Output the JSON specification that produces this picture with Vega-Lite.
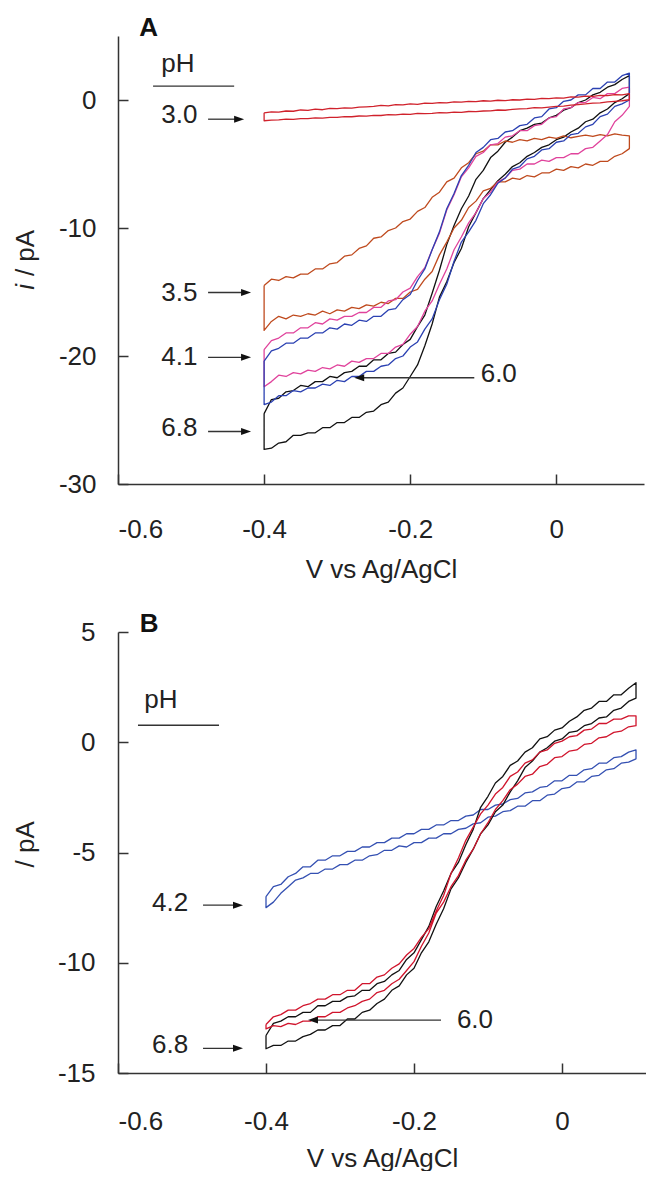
{
"$schema":"https://vega.github.io/schema/vega-lite/v6.json",
"autosize":{"type":"pad"},
"padding":{"left":12,"top":15,"right":0,"bottom":0},
"background":"white",
"config":{"view":{"stroke":null},"font":"Liberation Sans",
"axis":{"domainColor":"#333","domainWidth":1.5,"tickColor":"#333","tickWidth":1.5,"tickSize":-10,"grid":false,"labelFont":"Liberation Sans","labelFontSize":26,"labelColor":"#222","titleFont":"Liberation Sans","titleFontSize":26,"titleFontWeight":"normal","titleColor":"#222","labelExpr":"datum.value == 0 ? '0' : replace(datum.label, '\u2212', '-')"}},
"resolve":{"scale":{"color":"independent"}},
"bounds":"flush",
"spacing":148,
"datasets":{
"curvesA":[
{"s":"6.8","x":-0.4,"y":-24.5},{"s":"6.8","x":-0.39,"y":-23.4},{"s":"6.8","x":-0.38,"y":-23.3},{"s":"6.8","x":-0.37,"y":-22.8},{"s":"6.8","x":-0.36,"y":-22.7},{"s":"6.8","x":-0.35,"y":-22.3},{"s":"6.8","x":-0.34,"y":-22.4},{"s":"6.8","x":-0.33,"y":-22.0},{"s":"6.8","x":-0.32,"y":-22.0},{"s":"6.8","x":-0.31,"y":-21.6},{"s":"6.8","x":-0.3,"y":-21.7},{"s":"6.8","x":-0.29,"y":-21.3},{"s":"6.8","x":-0.28,"y":-21.2},{"s":"6.8","x":-0.27,"y":-20.8},{"s":"6.8","x":-0.26,"y":-20.8},{"s":"6.8","x":-0.25,"y":-20.3},{"s":"6.8","x":-0.24,"y":-20.3},{"s":"6.8","x":-0.23,"y":-19.8},{"s":"6.8","x":-0.22,"y":-19.7},{"s":"6.8","x":-0.21,"y":-19.1},{"s":"6.8","x":-0.2,"y":-18.7},{"s":"6.8","x":-0.19,"y":-17.7},{"s":"6.8","x":-0.18,"y":-16.8},{"s":"6.8","x":-0.17,"y":-15.1},{"s":"6.8","x":-0.16,"y":-13.3},{"s":"6.8","x":-0.15,"y":-11.3},{"s":"6.8","x":-0.14,"y":-9.8},{"s":"6.8","x":-0.13,"y":-8.5},{"s":"6.8","x":-0.12,"y":-7.5},{"s":"6.8","x":-0.11,"y":-6.2},{"s":"6.8","x":-0.1,"y":-5.5},{"s":"6.8","x":-0.09,"y":-4.5},{"s":"6.8","x":-0.08,"y":-4.0},{"s":"6.8","x":-0.07,"y":-3.3},{"s":"6.8","x":-0.06,"y":-2.9},{"s":"6.8","x":-0.05,"y":-2.4},{"s":"6.8","x":-0.04,"y":-2.2},{"s":"6.8","x":-0.03,"y":-1.9},{"s":"6.8","x":-0.02,"y":-1.8},{"s":"6.8","x":-0.01,"y":-1.4},{"s":"6.8","x":0,"y":-1.2},{"s":"6.8","x":0.01,"y":-0.8},{"s":"6.8","x":0.02,"y":-0.6},{"s":"6.8","x":0.03,"y":-0.2},{"s":"6.8","x":0.04,"y":0.0},{"s":"6.8","x":0.05,"y":0.4},{"s":"6.8","x":0.06,"y":0.6},{"s":"6.8","x":0.07,"y":1.0},{"s":"6.8","x":0.08,"y":1.2},{"s":"6.8","x":0.09,"y":1.6},{"s":"6.8","x":0.1,"y":1.9},
{"s":"6.8","x":0.1,"y":0.5},{"s":"6.8","x":0.09,"y":0.1},{"s":"6.8","x":0.08,"y":-0.2},{"s":"6.8","x":0.07,"y":-0.7},{"s":"6.8","x":0.06,"y":-1.0},{"s":"6.8","x":0.05,"y":-1.5},{"s":"6.8","x":0.04,"y":-1.7},{"s":"6.8","x":0.03,"y":-2.2},{"s":"6.8","x":0.02,"y":-2.5},{"s":"6.8","x":0.01,"y":-2.9},{"s":"6.8","x":0,"y":-3.1},{"s":"6.8","x":-0.01,"y":-3.5},{"s":"6.8","x":-0.02,"y":-3.7},{"s":"6.8","x":-0.03,"y":-4.1},{"s":"6.8","x":-0.04,"y":-4.4},{"s":"6.8","x":-0.05,"y":-4.9},{"s":"6.8","x":-0.06,"y":-5.2},{"s":"6.8","x":-0.07,"y":-5.8},{"s":"6.8","x":-0.08,"y":-6.3},{"s":"6.8","x":-0.09,"y":-7.0},{"s":"6.8","x":-0.1,"y":-7.7},{"s":"6.8","x":-0.11,"y":-8.8},{"s":"6.8","x":-0.12,"y":-9.9},{"s":"6.8","x":-0.13,"y":-11.6},{"s":"6.8","x":-0.14,"y":-12.7},{"s":"6.8","x":-0.15,"y":-14.2},{"s":"6.8","x":-0.16,"y":-15.4},{"s":"6.8","x":-0.17,"y":-17.5},{"s":"6.8","x":-0.18,"y":-19.2},{"s":"6.8","x":-0.19,"y":-20.7},{"s":"6.8","x":-0.2,"y":-21.6},{"s":"6.8","x":-0.21,"y":-22.5},{"s":"6.8","x":-0.22,"y":-22.9},{"s":"6.8","x":-0.23,"y":-23.6},{"s":"6.8","x":-0.24,"y":-23.8},{"s":"6.8","x":-0.25,"y":-24.3},{"s":"6.8","x":-0.26,"y":-24.4},{"s":"6.8","x":-0.27,"y":-24.8},{"s":"6.8","x":-0.28,"y":-24.8},{"s":"6.8","x":-0.29,"y":-25.2},{"s":"6.8","x":-0.3,"y":-25.2},{"s":"6.8","x":-0.31,"y":-25.6},{"s":"6.8","x":-0.32,"y":-25.6},{"s":"6.8","x":-0.33,"y":-26.0},{"s":"6.8","x":-0.34,"y":-26.0},{"s":"6.8","x":-0.35,"y":-26.2},{"s":"6.8","x":-0.36,"y":-26.2},{"s":"6.8","x":-0.37,"y":-26.7},{"s":"6.8","x":-0.38,"y":-26.8},{"s":"6.8","x":-0.39,"y":-27.2},{"s":"6.8","x":-0.4,"y":-27.3},{"s":"6.8","x":-0.4,"y":-24.5},
{"s":"3.5","x":-0.4,"y":-14.5},{"s":"3.5","x":-0.39,"y":-14.0},{"s":"3.5","x":-0.38,"y":-14.1},{"s":"3.5","x":-0.37,"y":-13.8},{"s":"3.5","x":-0.36,"y":-13.9},{"s":"3.5","x":-0.35,"y":-13.6},{"s":"3.5","x":-0.34,"y":-13.6},{"s":"3.5","x":-0.33,"y":-13.2},{"s":"3.5","x":-0.32,"y":-13.2},{"s":"3.5","x":-0.31,"y":-12.8},{"s":"3.5","x":-0.3,"y":-12.7},{"s":"3.5","x":-0.29,"y":-12.2},{"s":"3.5","x":-0.28,"y":-12.1},{"s":"3.5","x":-0.27,"y":-11.6},{"s":"3.5","x":-0.26,"y":-11.4},{"s":"3.5","x":-0.25,"y":-10.8},{"s":"3.5","x":-0.24,"y":-10.7},{"s":"3.5","x":-0.23,"y":-10.2},{"s":"3.5","x":-0.22,"y":-10.0},{"s":"3.5","x":-0.21,"y":-9.5},{"s":"3.5","x":-0.2,"y":-9.3},{"s":"3.5","x":-0.19,"y":-8.7},{"s":"3.5","x":-0.18,"y":-8.4},{"s":"3.5","x":-0.17,"y":-7.6},{"s":"3.5","x":-0.16,"y":-7.2},{"s":"3.5","x":-0.15,"y":-6.4},{"s":"3.5","x":-0.14,"y":-6.1},{"s":"3.5","x":-0.13,"y":-5.3},{"s":"3.5","x":-0.12,"y":-4.9},{"s":"3.5","x":-0.11,"y":-4.2},{"s":"3.5","x":-0.1,"y":-4.0},{"s":"3.5","x":-0.09,"y":-3.5},{"s":"3.5","x":-0.08,"y":-3.5},{"s":"3.5","x":-0.07,"y":-3.2},{"s":"3.5","x":-0.06,"y":-3.3},{"s":"3.5","x":-0.05,"y":-3.1},{"s":"3.5","x":-0.04,"y":-3.2},{"s":"3.5","x":-0.03,"y":-3.0},{"s":"3.5","x":-0.02,"y":-3.1},{"s":"3.5","x":-0.01,"y":-2.9},{"s":"3.5","x":0,"y":-3.0},{"s":"3.5","x":0.01,"y":-2.8},{"s":"3.5","x":0.02,"y":-2.95},{"s":"3.5","x":0.03,"y":-2.85},{"s":"3.5","x":0.04,"y":-2.75},{"s":"3.5","x":0.05,"y":-2.85},{"s":"3.5","x":0.06,"y":-2.7},{"s":"3.5","x":0.07,"y":-2.8},{"s":"3.5","x":0.08,"y":-2.65},{"s":"3.5","x":0.09,"y":-2.75},{"s":"3.5","x":0.1,"y":-2.8},
{"s":"3.5","x":0.1,"y":-3.8},{"s":"3.5","x":0.09,"y":-4.2},{"s":"3.5","x":0.08,"y":-4.4},{"s":"3.5","x":0.07,"y":-4.8},{"s":"3.5","x":0.06,"y":-4.8},{"s":"3.5","x":0.05,"y":-5.1},{"s":"3.5","x":0.04,"y":-5.0},{"s":"3.5","x":0.03,"y":-5.3},{"s":"3.5","x":0.02,"y":-5.2},{"s":"3.5","x":0.01,"y":-5.5},{"s":"3.5","x":0,"y":-5.4},{"s":"3.5","x":-0.01,"y":-5.7},{"s":"3.5","x":-0.02,"y":-5.7},{"s":"3.5","x":-0.03,"y":-6.0},{"s":"3.5","x":-0.04,"y":-5.9},{"s":"3.5","x":-0.05,"y":-6.2},{"s":"3.5","x":-0.06,"y":-6.1},{"s":"3.5","x":-0.07,"y":-6.4},{"s":"3.5","x":-0.08,"y":-6.4},{"s":"3.5","x":-0.09,"y":-6.9},{"s":"3.5","x":-0.1,"y":-7.1},{"s":"3.5","x":-0.11,"y":-7.9},{"s":"3.5","x":-0.12,"y":-8.4},{"s":"3.5","x":-0.13,"y":-9.4},{"s":"3.5","x":-0.14,"y":-10.0},{"s":"3.5","x":-0.15,"y":-11.1},{"s":"3.5","x":-0.16,"y":-12.1},{"s":"3.5","x":-0.17,"y":-13.4},{"s":"3.5","x":-0.18,"y":-14.0},{"s":"3.5","x":-0.19,"y":-14.8},{"s":"3.5","x":-0.2,"y":-15.0},{"s":"3.5","x":-0.21,"y":-15.5},{"s":"3.5","x":-0.22,"y":-15.5},{"s":"3.5","x":-0.23,"y":-15.9},{"s":"3.5","x":-0.24,"y":-15.8},{"s":"3.5","x":-0.25,"y":-16.1},{"s":"3.5","x":-0.26,"y":-16.0},{"s":"3.5","x":-0.27,"y":-16.3},{"s":"3.5","x":-0.28,"y":-16.2},{"s":"3.5","x":-0.29,"y":-16.5},{"s":"3.5","x":-0.3,"y":-16.4},{"s":"3.5","x":-0.31,"y":-16.7},{"s":"3.5","x":-0.32,"y":-16.5},{"s":"3.5","x":-0.33,"y":-16.8},{"s":"3.5","x":-0.34,"y":-16.7},{"s":"3.5","x":-0.35,"y":-16.9},{"s":"3.5","x":-0.36,"y":-16.8},{"s":"3.5","x":-0.37,"y":-17.1},{"s":"3.5","x":-0.38,"y":-16.9},{"s":"3.5","x":-0.39,"y":-17.3},{"s":"3.5","x":-0.4,"y":-18.0},{"s":"3.5","x":-0.4,"y":-14.5},
{"s":"4.1","x":-0.4,"y":-19.5},{"s":"4.1","x":-0.39,"y":-18.8},{"s":"4.1","x":-0.38,"y":-18.6},{"s":"4.1","x":-0.37,"y":-18.2},{"s":"4.1","x":-0.36,"y":-18.2},{"s":"4.1","x":-0.35,"y":-17.8},{"s":"4.1","x":-0.34,"y":-17.8},{"s":"4.1","x":-0.33,"y":-17.4},{"s":"4.1","x":-0.32,"y":-17.5},{"s":"4.1","x":-0.31,"y":-17.1},{"s":"4.1","x":-0.3,"y":-17.2},{"s":"4.1","x":-0.29,"y":-16.9},{"s":"4.1","x":-0.28,"y":-16.9},{"s":"4.1","x":-0.27,"y":-16.6},{"s":"4.1","x":-0.26,"y":-16.6},{"s":"4.1","x":-0.25,"y":-16.2},{"s":"4.1","x":-0.24,"y":-16.2},{"s":"4.1","x":-0.23,"y":-15.7},{"s":"4.1","x":-0.22,"y":-15.6},{"s":"4.1","x":-0.21,"y":-15.0},{"s":"4.1","x":-0.2,"y":-14.7},{"s":"4.1","x":-0.19,"y":-13.8},{"s":"4.1","x":-0.18,"y":-13.1},{"s":"4.1","x":-0.17,"y":-11.7},{"s":"4.1","x":-0.16,"y":-10.4},{"s":"4.1","x":-0.15,"y":-8.6},{"s":"4.1","x":-0.14,"y":-7.4},{"s":"4.1","x":-0.13,"y":-6.0},{"s":"4.1","x":-0.12,"y":-5.3},{"s":"4.1","x":-0.11,"y":-4.4},{"s":"4.1","x":-0.1,"y":-4.1},{"s":"4.1","x":-0.09,"y":-3.5},{"s":"4.1","x":-0.08,"y":-3.4},{"s":"4.1","x":-0.07,"y":-2.9},{"s":"4.1","x":-0.06,"y":-2.8},{"s":"4.1","x":-0.05,"y":-2.4},{"s":"4.1","x":-0.04,"y":-2.4},{"s":"4.1","x":-0.03,"y":-2.0},{"s":"4.1","x":-0.02,"y":-1.9},{"s":"4.1","x":-0.01,"y":-1.4},{"s":"4.1","x":0,"y":-1.3},{"s":"4.1","x":0.01,"y":-0.7},{"s":"4.1","x":0.02,"y":-0.6},{"s":"4.1","x":0.03,"y":-0.2},{"s":"4.1","x":0.04,"y":-0.2},{"s":"4.1","x":0.05,"y":0.2},{"s":"4.1","x":0.06,"y":0.1},{"s":"4.1","x":0.07,"y":0.5},{"s":"4.1","x":0.08,"y":0.5},{"s":"4.1","x":0.09,"y":0.9},{"s":"4.1","x":0.1,"y":1.0},
{"s":"4.1","x":0.1,"y":-0.5},{"s":"4.1","x":0.09,"y":-1.2},{"s":"4.1","x":0.08,"y":-1.7},{"s":"4.1","x":0.07,"y":-2.7},{"s":"4.1","x":0.06,"y":-3.2},{"s":"4.1","x":0.05,"y":-3.7},{"s":"4.1","x":0.04,"y":-3.8},{"s":"4.1","x":0.03,"y":-4.2},{"s":"4.1","x":0.02,"y":-4.2},{"s":"4.1","x":0.01,"y":-4.5},{"s":"4.1","x":0,"y":-4.5},{"s":"4.1","x":-0.01,"y":-4.8},{"s":"4.1","x":-0.02,"y":-4.7},{"s":"4.1","x":-0.03,"y":-5.0},{"s":"4.1","x":-0.04,"y":-5.0},{"s":"4.1","x":-0.05,"y":-5.4},{"s":"4.1","x":-0.06,"y":-5.5},{"s":"4.1","x":-0.07,"y":-6.1},{"s":"4.1","x":-0.08,"y":-6.4},{"s":"4.1","x":-0.09,"y":-7.2},{"s":"4.1","x":-0.1,"y":-7.7},{"s":"4.1","x":-0.11,"y":-8.8},{"s":"4.1","x":-0.12,"y":-9.6},{"s":"4.1","x":-0.13,"y":-10.7},{"s":"4.1","x":-0.14,"y":-11.7},{"s":"4.1","x":-0.15,"y":-13.2},{"s":"4.1","x":-0.16,"y":-14.4},{"s":"4.1","x":-0.17,"y":-15.7},{"s":"4.1","x":-0.18,"y":-16.5},{"s":"4.1","x":-0.19,"y":-17.7},{"s":"4.1","x":-0.2,"y":-18.3},{"s":"4.1","x":-0.21,"y":-19.1},{"s":"4.1","x":-0.22,"y":-19.3},{"s":"4.1","x":-0.23,"y":-19.8},{"s":"4.1","x":-0.24,"y":-19.8},{"s":"4.1","x":-0.25,"y":-20.2},{"s":"4.1","x":-0.26,"y":-20.2},{"s":"4.1","x":-0.27,"y":-20.5},{"s":"4.1","x":-0.28,"y":-20.4},{"s":"4.1","x":-0.29,"y":-20.8},{"s":"4.1","x":-0.3,"y":-20.7},{"s":"4.1","x":-0.31,"y":-21.0},{"s":"4.1","x":-0.32,"y":-20.9},{"s":"4.1","x":-0.33,"y":-21.2},{"s":"4.1","x":-0.34,"y":-21.1},{"s":"4.1","x":-0.35,"y":-21.4},{"s":"4.1","x":-0.36,"y":-21.3},{"s":"4.1","x":-0.37,"y":-21.6},{"s":"4.1","x":-0.38,"y":-21.5},{"s":"4.1","x":-0.39,"y":-22.0},{"s":"4.1","x":-0.4,"y":-22.4},{"s":"4.1","x":-0.4,"y":-19.5},
{"s":"6.0","x":-0.4,"y":-20.4},{"s":"6.0","x":-0.39,"y":-19.6},{"s":"6.0","x":-0.38,"y":-19.4},{"s":"6.0","x":-0.37,"y":-19.0},{"s":"6.0","x":-0.36,"y":-19.0},{"s":"6.0","x":-0.35,"y":-18.6},{"s":"6.0","x":-0.34,"y":-18.6},{"s":"6.0","x":-0.33,"y":-18.2},{"s":"6.0","x":-0.32,"y":-18.2},{"s":"6.0","x":-0.31,"y":-17.8},{"s":"6.0","x":-0.3,"y":-17.9},{"s":"6.0","x":-0.29,"y":-17.5},{"s":"6.0","x":-0.28,"y":-17.6},{"s":"6.0","x":-0.27,"y":-17.2},{"s":"6.0","x":-0.26,"y":-17.3},{"s":"6.0","x":-0.25,"y":-16.9},{"s":"6.0","x":-0.24,"y":-16.9},{"s":"6.0","x":-0.23,"y":-16.4},{"s":"6.0","x":-0.22,"y":-16.3},{"s":"6.0","x":-0.21,"y":-15.6},{"s":"6.0","x":-0.2,"y":-15.2},{"s":"6.0","x":-0.19,"y":-14.1},{"s":"6.0","x":-0.18,"y":-13.2},{"s":"6.0","x":-0.17,"y":-11.7},{"s":"6.0","x":-0.16,"y":-10.3},{"s":"6.0","x":-0.15,"y":-8.5},{"s":"6.0","x":-0.14,"y":-7.3},{"s":"6.0","x":-0.13,"y":-5.9},{"s":"6.0","x":-0.12,"y":-5.1},{"s":"6.0","x":-0.11,"y":-4.1},{"s":"6.0","x":-0.1,"y":-3.7},{"s":"6.0","x":-0.09,"y":-3.1},{"s":"6.0","x":-0.08,"y":-3.0},{"s":"6.0","x":-0.07,"y":-2.5},{"s":"6.0","x":-0.06,"y":-2.4},{"s":"6.0","x":-0.05,"y":-2.0},{"s":"6.0","x":-0.04,"y":-1.9},{"s":"6.0","x":-0.03,"y":-1.4},{"s":"6.0","x":-0.02,"y":-1.3},{"s":"6.0","x":-0.01,"y":-0.7},{"s":"6.0","x":0,"y":-0.6},{"s":"6.0","x":0.01,"y":-0.1},{"s":"6.0","x":0.02,"y":0.0},{"s":"6.0","x":0.03,"y":0.4},{"s":"6.0","x":0.04,"y":0.4},{"s":"6.0","x":0.05,"y":0.9},{"s":"6.0","x":0.06,"y":0.9},{"s":"6.0","x":0.07,"y":1.4},{"s":"6.0","x":0.08,"y":1.4},{"s":"6.0","x":0.09,"y":1.9},{"s":"6.0","x":0.1,"y":2.1},
{"s":"6.0","x":0.1,"y":0.0},{"s":"6.0","x":0.09,"y":-0.3},{"s":"6.0","x":0.08,"y":-0.5},{"s":"6.0","x":0.07,"y":-1.1},{"s":"6.0","x":0.06,"y":-1.3},{"s":"6.0","x":0.05,"y":-1.9},{"s":"6.0","x":0.04,"y":-2.1},{"s":"6.0","x":0.03,"y":-2.6},{"s":"6.0","x":0.02,"y":-2.7},{"s":"6.0","x":0.01,"y":-3.2},{"s":"6.0","x":0,"y":-3.3},{"s":"6.0","x":-0.01,"y":-3.8},{"s":"6.0","x":-0.02,"y":-3.9},{"s":"6.0","x":-0.03,"y":-4.4},{"s":"6.0","x":-0.04,"y":-4.6},{"s":"6.0","x":-0.05,"y":-5.2},{"s":"6.0","x":-0.06,"y":-5.4},{"s":"6.0","x":-0.07,"y":-6.1},{"s":"6.0","x":-0.08,"y":-6.5},{"s":"6.0","x":-0.09,"y":-7.4},{"s":"6.0","x":-0.1,"y":-8.1},{"s":"6.0","x":-0.11,"y":-9.4},{"s":"6.0","x":-0.12,"y":-10.3},{"s":"6.0","x":-0.13,"y":-11.1},{"s":"6.0","x":-0.14,"y":-12.6},{"s":"6.0","x":-0.15,"y":-14.4},{"s":"6.0","x":-0.16,"y":-15.6},{"s":"6.0","x":-0.17,"y":-17.1},{"s":"6.0","x":-0.18,"y":-17.9},{"s":"6.0","x":-0.19,"y":-18.9},{"s":"6.0","x":-0.2,"y":-19.3},{"s":"6.0","x":-0.21,"y":-20.0},{"s":"6.0","x":-0.22,"y":-20.2},{"s":"6.0","x":-0.23,"y":-20.7},{"s":"6.0","x":-0.24,"y":-20.8},{"s":"6.0","x":-0.25,"y":-21.2},{"s":"6.0","x":-0.26,"y":-21.2},{"s":"6.0","x":-0.27,"y":-21.6},{"s":"6.0","x":-0.28,"y":-21.6},{"s":"6.0","x":-0.29,"y":-22.0},{"s":"6.0","x":-0.3,"y":-21.9},{"s":"6.0","x":-0.31,"y":-22.3},{"s":"6.0","x":-0.32,"y":-22.2},{"s":"6.0","x":-0.33,"y":-22.5},{"s":"6.0","x":-0.34,"y":-22.5},{"s":"6.0","x":-0.35,"y":-22.8},{"s":"6.0","x":-0.36,"y":-22.7},{"s":"6.0","x":-0.37,"y":-23.1},{"s":"6.0","x":-0.38,"y":-23.1},{"s":"6.0","x":-0.39,"y":-23.6},{"s":"6.0","x":-0.4,"y":-23.8},{"s":"6.0","x":-0.4,"y":-20.4},
{"s":"3.0","x":-0.4,"y":-1.0},{"s":"3.0","x":-0.39,"y":-0.92},{"s":"3.0","x":-0.38,"y":-0.95},{"s":"3.0","x":-0.37,"y":-0.86},{"s":"3.0","x":-0.36,"y":-0.88},{"s":"3.0","x":-0.35,"y":-0.78},{"s":"3.0","x":-0.34,"y":-0.81},{"s":"3.0","x":-0.33,"y":-0.72},{"s":"3.0","x":-0.32,"y":-0.76},{"s":"3.0","x":-0.31,"y":-0.66},{"s":"3.0","x":-0.3,"y":-0.68},{"s":"3.0","x":-0.29,"y":-0.61},{"s":"3.0","x":-0.28,"y":-0.63},{"s":"3.0","x":-0.27,"y":-0.55},{"s":"3.0","x":-0.26,"y":-0.53},{"s":"3.0","x":-0.25,"y":-0.5},{"s":"3.0","x":-0.24,"y":-0.42},{"s":"3.0","x":-0.23,"y":-0.46},{"s":"3.0","x":-0.22,"y":-0.36},{"s":"3.0","x":-0.21,"y":-0.38},{"s":"3.0","x":-0.2,"y":-0.3},{"s":"3.0","x":-0.19,"y":-0.34},{"s":"3.0","x":-0.18,"y":-0.25},{"s":"3.0","x":-0.17,"y":-0.27},{"s":"3.0","x":-0.16,"y":-0.2},{"s":"3.0","x":-0.15,"y":-0.23},{"s":"3.0","x":-0.14,"y":-0.15},{"s":"3.0","x":-0.13,"y":-0.17},{"s":"3.0","x":-0.12,"y":-0.1},{"s":"3.0","x":-0.11,"y":-0.13},{"s":"3.0","x":-0.1,"y":-0.06},{"s":"3.0","x":-0.09,"y":-0.09},{"s":"3.0","x":-0.08,"y":-0.02},{"s":"3.0","x":-0.07,"y":-0.05},{"s":"3.0","x":-0.06,"y":0.02},{"s":"3.0","x":-0.05,"y":0.0},{"s":"3.0","x":-0.04,"y":0.07},{"s":"3.0","x":-0.03,"y":0.05},{"s":"3.0","x":-0.02,"y":0.12},{"s":"3.0","x":-0.01,"y":0.1},{"s":"3.0","x":0,"y":0.17},{"s":"3.0","x":0.01,"y":0.15},{"s":"3.0","x":0.02,"y":0.24},{"s":"3.0","x":0.03,"y":0.22},{"s":"3.0","x":0.04,"y":0.3},{"s":"3.0","x":0.05,"y":0.28},{"s":"3.0","x":0.06,"y":0.36},{"s":"3.0","x":0.07,"y":0.34},{"s":"3.0","x":0.08,"y":0.42},{"s":"3.0","x":0.09,"y":0.4},{"s":"3.0","x":0.1,"y":0.5},
{"s":"3.0","x":0.1,"y":0.02},{"s":"3.0","x":0.09,"y":-0.06},{"s":"3.0","x":0.08,"y":-0.1},{"s":"3.0","x":0.07,"y":-0.14},{"s":"3.0","x":0.06,"y":-0.22},{"s":"3.0","x":0.05,"y":-0.24},{"s":"3.0","x":0.04,"y":-0.31},{"s":"3.0","x":0.03,"y":-0.36},{"s":"3.0","x":0.02,"y":-0.4},{"s":"3.0","x":0.01,"y":-0.48},{"s":"3.0","x":0,"y":-0.5},{"s":"3.0","x":-0.01,"y":-0.55},{"s":"3.0","x":-0.02,"y":-0.61},{"s":"3.0","x":-0.03,"y":-0.6},{"s":"3.0","x":-0.04,"y":-0.67},{"s":"3.0","x":-0.05,"y":-0.7},{"s":"3.0","x":-0.06,"y":-0.73},{"s":"3.0","x":-0.07,"y":-0.8},{"s":"3.0","x":-0.08,"y":-0.78},{"s":"3.0","x":-0.09,"y":-0.85},{"s":"3.0","x":-0.1,"y":-0.86},{"s":"3.0","x":-0.11,"y":-0.91},{"s":"3.0","x":-0.12,"y":-0.9},{"s":"3.0","x":-0.13,"y":-0.96},{"s":"3.0","x":-0.14,"y":-0.95},{"s":"3.0","x":-0.15,"y":-1.01},{"s":"3.0","x":-0.16,"y":-0.99},{"s":"3.0","x":-0.17,"y":-1.04},{"s":"3.0","x":-0.18,"y":-1.06},{"s":"3.0","x":-0.19,"y":-1.05},{"s":"3.0","x":-0.2,"y":-1.12},{"s":"3.0","x":-0.21,"y":-1.1},{"s":"3.0","x":-0.22,"y":-1.16},{"s":"3.0","x":-0.23,"y":-1.15},{"s":"3.0","x":-0.24,"y":-1.21},{"s":"3.0","x":-0.25,"y":-1.2},{"s":"3.0","x":-0.26,"y":-1.26},{"s":"3.0","x":-0.27,"y":-1.25},{"s":"3.0","x":-0.28,"y":-1.31},{"s":"3.0","x":-0.29,"y":-1.3},{"s":"3.0","x":-0.3,"y":-1.36},{"s":"3.0","x":-0.31,"y":-1.35},{"s":"3.0","x":-0.32,"y":-1.41},{"s":"3.0","x":-0.33,"y":-1.4},{"s":"3.0","x":-0.34,"y":-1.46},{"s":"3.0","x":-0.35,"y":-1.45},{"s":"3.0","x":-0.36,"y":-1.51},{"s":"3.0","x":-0.37,"y":-1.5},{"s":"3.0","x":-0.38,"y":-1.56},{"s":"3.0","x":-0.39,"y":-1.58},{"s":"3.0","x":-0.4,"y":-1.62},{"s":"3.0","x":-0.4,"y":-1.0}
],
"curvesB":[
{"s":"4.2","x":-0.4,"y":-7.0},{"s":"4.2","x":-0.39,"y":-6.55},{"s":"4.2","x":-0.38,"y":-6.45},{"s":"4.2","x":-0.37,"y":-6.1},{"s":"4.2","x":-0.36,"y":-5.95},{"s":"4.2","x":-0.35,"y":-5.65},{"s":"4.2","x":-0.34,"y":-5.65},{"s":"4.2","x":-0.33,"y":-5.35},{"s":"4.2","x":-0.32,"y":-5.35},{"s":"4.2","x":-0.31,"y":-5.15},{"s":"4.2","x":-0.3,"y":-5.15},{"s":"4.2","x":-0.29,"y":-4.95},{"s":"4.2","x":-0.28,"y":-4.95},{"s":"4.2","x":-0.27,"y":-4.75},{"s":"4.2","x":-0.26,"y":-4.75},{"s":"4.2","x":-0.25,"y":-4.55},{"s":"4.2","x":-0.24,"y":-4.55},{"s":"4.2","x":-0.23,"y":-4.35},{"s":"4.2","x":-0.22,"y":-4.35},{"s":"4.2","x":-0.21,"y":-4.15},{"s":"4.2","x":-0.2,"y":-4.15},{"s":"4.2","x":-0.19,"y":-3.95},{"s":"4.2","x":-0.18,"y":-3.95},{"s":"4.2","x":-0.17,"y":-3.75},{"s":"4.2","x":-0.16,"y":-3.75},{"s":"4.2","x":-0.15,"y":-3.55},{"s":"4.2","x":-0.14,"y":-3.55},{"s":"4.2","x":-0.13,"y":-3.35},{"s":"4.2","x":-0.12,"y":-3.3},{"s":"4.2","x":-0.11,"y":-3.05},{"s":"4.2","x":-0.1,"y":-3.05},{"s":"4.2","x":-0.09,"y":-2.85},{"s":"4.2","x":-0.08,"y":-2.8},{"s":"4.2","x":-0.07,"y":-2.6},{"s":"4.2","x":-0.06,"y":-2.55},{"s":"4.2","x":-0.05,"y":-2.3},{"s":"4.2","x":-0.04,"y":-2.25},{"s":"4.2","x":-0.03,"y":-2.05},{"s":"4.2","x":-0.02,"y":-2.0},{"s":"4.2","x":-0.01,"y":-1.75},{"s":"4.2","x":0,"y":-1.75},{"s":"4.2","x":0.01,"y":-1.5},{"s":"4.2","x":0.02,"y":-1.5},{"s":"4.2","x":0.03,"y":-1.25},{"s":"4.2","x":0.04,"y":-1.2},{"s":"4.2","x":0.05,"y":-0.95},{"s":"4.2","x":0.06,"y":-0.95},{"s":"4.2","x":0.07,"y":-0.7},{"s":"4.2","x":0.08,"y":-0.65},{"s":"4.2","x":0.09,"y":-0.45},{"s":"4.2","x":0.1,"y":-0.35},
{"s":"4.2","x":0.1,"y":-0.75},{"s":"4.2","x":0.09,"y":-0.9},{"s":"4.2","x":0.08,"y":-0.95},{"s":"4.2","x":0.07,"y":-1.2},{"s":"4.2","x":0.06,"y":-1.25},{"s":"4.2","x":0.05,"y":-1.5},{"s":"4.2","x":0.04,"y":-1.55},{"s":"4.2","x":0.03,"y":-1.8},{"s":"4.2","x":0.02,"y":-1.8},{"s":"4.2","x":0.01,"y":-2.05},{"s":"4.2","x":0,"y":-2.1},{"s":"4.2","x":-0.01,"y":-2.35},{"s":"4.2","x":-0.02,"y":-2.4},{"s":"4.2","x":-0.03,"y":-2.65},{"s":"4.2","x":-0.04,"y":-2.65},{"s":"4.2","x":-0.05,"y":-2.9},{"s":"4.2","x":-0.06,"y":-2.9},{"s":"4.2","x":-0.07,"y":-3.1},{"s":"4.2","x":-0.08,"y":-3.15},{"s":"4.2","x":-0.09,"y":-3.35},{"s":"4.2","x":-0.1,"y":-3.4},{"s":"4.2","x":-0.11,"y":-3.65},{"s":"4.2","x":-0.12,"y":-3.7},{"s":"4.2","x":-0.13,"y":-3.9},{"s":"4.2","x":-0.14,"y":-3.95},{"s":"4.2","x":-0.15,"y":-4.15},{"s":"4.2","x":-0.16,"y":-4.15},{"s":"4.2","x":-0.17,"y":-4.35},{"s":"4.2","x":-0.18,"y":-4.35},{"s":"4.2","x":-0.19,"y":-4.55},{"s":"4.2","x":-0.2,"y":-4.55},{"s":"4.2","x":-0.21,"y":-4.75},{"s":"4.2","x":-0.22,"y":-4.7},{"s":"4.2","x":-0.23,"y":-4.9},{"s":"4.2","x":-0.24,"y":-4.9},{"s":"4.2","x":-0.25,"y":-5.1},{"s":"4.2","x":-0.26,"y":-5.15},{"s":"4.2","x":-0.27,"y":-5.35},{"s":"4.2","x":-0.28,"y":-5.35},{"s":"4.2","x":-0.29,"y":-5.55},{"s":"4.2","x":-0.3,"y":-5.55},{"s":"4.2","x":-0.31,"y":-5.75},{"s":"4.2","x":-0.32,"y":-5.75},{"s":"4.2","x":-0.33,"y":-5.95},{"s":"4.2","x":-0.34,"y":-5.95},{"s":"4.2","x":-0.35,"y":-6.15},{"s":"4.2","x":-0.36,"y":-6.25},{"s":"4.2","x":-0.37,"y":-6.55},{"s":"4.2","x":-0.38,"y":-6.85},{"s":"4.2","x":-0.39,"y":-7.25},{"s":"4.2","x":-0.4,"y":-7.5},{"s":"4.2","x":-0.4,"y":-7.0},
{"s":"6.8","x":-0.4,"y":-13.3},{"s":"6.8","x":-0.39,"y":-12.75},{"s":"6.8","x":-0.38,"y":-12.65},{"s":"6.8","x":-0.37,"y":-12.45},{"s":"6.8","x":-0.36,"y":-12.45},{"s":"6.8","x":-0.35,"y":-12.25},{"s":"6.8","x":-0.34,"y":-12.25},{"s":"6.8","x":-0.33,"y":-11.95},{"s":"6.8","x":-0.32,"y":-11.95},{"s":"6.8","x":-0.31,"y":-11.75},{"s":"6.8","x":-0.3,"y":-11.75},{"s":"6.8","x":-0.29,"y":-11.55},{"s":"6.8","x":-0.28,"y":-11.5},{"s":"6.8","x":-0.27,"y":-11.25},{"s":"6.8","x":-0.26,"y":-11.25},{"s":"6.8","x":-0.25,"y":-10.95},{"s":"6.8","x":-0.24,"y":-10.85},{"s":"6.8","x":-0.23,"y":-10.55},{"s":"6.8","x":-0.22,"y":-10.35},{"s":"6.8","x":-0.21,"y":-9.85},{"s":"6.8","x":-0.2,"y":-9.55},{"s":"6.8","x":-0.19,"y":-8.95},{"s":"6.8","x":-0.18,"y":-8.35},{"s":"6.8","x":-0.17,"y":-7.45},{"s":"6.8","x":-0.16,"y":-6.75},{"s":"6.8","x":-0.15,"y":-5.95},{"s":"6.8","x":-0.14,"y":-5.45},{"s":"6.8","x":-0.13,"y":-4.65},{"s":"6.8","x":-0.12,"y":-3.95},{"s":"6.8","x":-0.11,"y":-2.95},{"s":"6.8","x":-0.1,"y":-2.45},{"s":"6.8","x":-0.09,"y":-1.85},{"s":"6.8","x":-0.08,"y":-1.55},{"s":"6.8","x":-0.07,"y":-1.05},{"s":"6.8","x":-0.06,"y":-0.85},{"s":"6.8","x":-0.05,"y":-0.45},{"s":"6.8","x":-0.04,"y":-0.25},{"s":"6.8","x":-0.03,"y":0.15},{"s":"6.8","x":-0.02,"y":0.25},{"s":"6.8","x":-0.01,"y":0.55},{"s":"6.8","x":0,"y":0.65},{"s":"6.8","x":0.01,"y":0.95},{"s":"6.8","x":0.02,"y":1.15},{"s":"6.8","x":0.03,"y":1.45},{"s":"6.8","x":0.04,"y":1.55},{"s":"6.8","x":0.05,"y":1.85},{"s":"6.8","x":0.06,"y":1.85},{"s":"6.8","x":0.07,"y":2.15},{"s":"6.8","x":0.08,"y":2.15},{"s":"6.8","x":0.09,"y":2.45},{"s":"6.8","x":0.1,"y":2.7},
{"s":"6.8","x":0.1,"y":2.0},{"s":"6.8","x":0.09,"y":1.85},{"s":"6.8","x":0.08,"y":1.55},{"s":"6.8","x":0.07,"y":1.45},{"s":"6.8","x":0.06,"y":1.15},{"s":"6.8","x":0.05,"y":1.1},{"s":"6.8","x":0.04,"y":0.85},{"s":"6.8","x":0.03,"y":0.75},{"s":"6.8","x":0.02,"y":0.5},{"s":"6.8","x":0.01,"y":0.45},{"s":"6.8","x":0,"y":0.15},{"s":"6.8","x":-0.01,"y":0.05},{"s":"6.8","x":-0.02,"y":-0.25},{"s":"6.8","x":-0.03,"y":-0.45},{"s":"6.8","x":-0.04,"y":-0.85},{"s":"6.8","x":-0.05,"y":-1.15},{"s":"6.8","x":-0.06,"y":-1.75},{"s":"6.8","x":-0.07,"y":-2.25},{"s":"6.8","x":-0.08,"y":-2.85},{"s":"6.8","x":-0.09,"y":-3.15},{"s":"6.8","x":-0.1,"y":-3.75},{"s":"6.8","x":-0.11,"y":-4.15},{"s":"6.8","x":-0.12,"y":-4.85},{"s":"6.8","x":-0.13,"y":-5.45},{"s":"6.8","x":-0.14,"y":-6.15},{"s":"6.8","x":-0.15,"y":-6.65},{"s":"6.8","x":-0.16,"y":-7.55},{"s":"6.8","x":-0.17,"y":-8.25},{"s":"6.8","x":-0.18,"y":-9.05},{"s":"6.8","x":-0.19,"y":-9.55},{"s":"6.8","x":-0.2,"y":-10.25},{"s":"6.8","x":-0.21,"y":-10.55},{"s":"6.8","x":-0.22,"y":-11.05},{"s":"6.8","x":-0.23,"y":-11.25},{"s":"6.8","x":-0.24,"y":-11.65},{"s":"6.8","x":-0.25,"y":-11.85},{"s":"6.8","x":-0.26,"y":-12.15},{"s":"6.8","x":-0.27,"y":-12.25},{"s":"6.8","x":-0.28,"y":-12.55},{"s":"6.8","x":-0.29,"y":-12.55},{"s":"6.8","x":-0.3,"y":-12.85},{"s":"6.8","x":-0.31,"y":-12.85},{"s":"6.8","x":-0.32,"y":-13.05},{"s":"6.8","x":-0.33,"y":-13.05},{"s":"6.8","x":-0.34,"y":-13.25},{"s":"6.8","x":-0.35,"y":-13.35},{"s":"6.8","x":-0.36,"y":-13.55},{"s":"6.8","x":-0.37,"y":-13.55},{"s":"6.8","x":-0.38,"y":-13.75},{"s":"6.8","x":-0.39,"y":-13.75},{"s":"6.8","x":-0.4,"y":-13.9},{"s":"6.8","x":-0.4,"y":-13.3},
{"s":"6.0","x":-0.4,"y":-12.8},{"s":"6.0","x":-0.39,"y":-12.45},{"s":"6.0","x":-0.38,"y":-12.35},{"s":"6.0","x":-0.37,"y":-12.15},{"s":"6.0","x":-0.36,"y":-12.15},{"s":"6.0","x":-0.35,"y":-11.95},{"s":"6.0","x":-0.34,"y":-11.85},{"s":"6.0","x":-0.33,"y":-11.65},{"s":"6.0","x":-0.32,"y":-11.65},{"s":"6.0","x":-0.31,"y":-11.45},{"s":"6.0","x":-0.3,"y":-11.45},{"s":"6.0","x":-0.29,"y":-11.25},{"s":"6.0","x":-0.28,"y":-11.25},{"s":"6.0","x":-0.27,"y":-10.95},{"s":"6.0","x":-0.26,"y":-10.95},{"s":"6.0","x":-0.25,"y":-10.65},{"s":"6.0","x":-0.24,"y":-10.55},{"s":"6.0","x":-0.23,"y":-10.25},{"s":"6.0","x":-0.22,"y":-10.05},{"s":"6.0","x":-0.21,"y":-9.65},{"s":"6.0","x":-0.2,"y":-9.35},{"s":"6.0","x":-0.19,"y":-8.85},{"s":"6.0","x":-0.18,"y":-8.45},{"s":"6.0","x":-0.17,"y":-7.65},{"s":"6.0","x":-0.16,"y":-6.95},{"s":"6.0","x":-0.15,"y":-5.95},{"s":"6.0","x":-0.14,"y":-5.25},{"s":"6.0","x":-0.13,"y":-4.45},{"s":"6.0","x":-0.12,"y":-3.85},{"s":"6.0","x":-0.11,"y":-3.25},{"s":"6.0","x":-0.1,"y":-2.85},{"s":"6.0","x":-0.09,"y":-2.35},{"s":"6.0","x":-0.08,"y":-2.05},{"s":"6.0","x":-0.07,"y":-1.55},{"s":"6.0","x":-0.06,"y":-1.35},{"s":"6.0","x":-0.05,"y":-0.95},{"s":"6.0","x":-0.04,"y":-0.8},{"s":"6.0","x":-0.03,"y":-0.45},{"s":"6.0","x":-0.02,"y":-0.35},{"s":"6.0","x":-0.01,"y":-0.05},{"s":"6.0","x":0,"y":0.05},{"s":"6.0","x":0.01,"y":0.25},{"s":"6.0","x":0.02,"y":0.3},{"s":"6.0","x":0.03,"y":0.55},{"s":"6.0","x":0.04,"y":0.6},{"s":"6.0","x":0.05,"y":0.85},{"s":"6.0","x":0.06,"y":0.85},{"s":"6.0","x":0.07,"y":1.05},{"s":"6.0","x":0.08,"y":1.05},{"s":"6.0","x":0.09,"y":1.2},{"s":"6.0","x":0.1,"y":1.2},
{"s":"6.0","x":0.1,"y":0.75},{"s":"6.0","x":0.09,"y":0.7},{"s":"6.0","x":0.08,"y":0.5},{"s":"6.0","x":0.07,"y":0.45},{"s":"6.0","x":0.06,"y":0.25},{"s":"6.0","x":0.05,"y":0.2},{"s":"6.0","x":0.04,"y":-0.05},{"s":"6.0","x":0.03,"y":-0.1},{"s":"6.0","x":0.02,"y":-0.35},{"s":"6.0","x":0.01,"y":-0.4},{"s":"6.0","x":0,"y":-0.65},{"s":"6.0","x":-0.01,"y":-0.7},{"s":"6.0","x":-0.02,"y":-1.0},{"s":"6.0","x":-0.03,"y":-1.1},{"s":"6.0","x":-0.04,"y":-1.45},{"s":"6.0","x":-0.05,"y":-1.55},{"s":"6.0","x":-0.06,"y":-1.9},{"s":"6.0","x":-0.07,"y":-2.15},{"s":"6.0","x":-0.08,"y":-2.65},{"s":"6.0","x":-0.09,"y":-3.05},{"s":"6.0","x":-0.1,"y":-3.65},{"s":"6.0","x":-0.11,"y":-4.15},{"s":"6.0","x":-0.12,"y":-4.85},{"s":"6.0","x":-0.13,"y":-5.35},{"s":"6.0","x":-0.14,"y":-6.05},{"s":"6.0","x":-0.15,"y":-6.55},{"s":"6.0","x":-0.16,"y":-7.25},{"s":"6.0","x":-0.17,"y":-7.75},{"s":"6.0","x":-0.18,"y":-8.65},{"s":"6.0","x":-0.19,"y":-9.25},{"s":"6.0","x":-0.2,"y":-9.95},{"s":"6.0","x":-0.21,"y":-10.35},{"s":"6.0","x":-0.22,"y":-10.75},{"s":"6.0","x":-0.23,"y":-10.95},{"s":"6.0","x":-0.24,"y":-11.25},{"s":"6.0","x":-0.25,"y":-11.35},{"s":"6.0","x":-0.26,"y":-11.65},{"s":"6.0","x":-0.27,"y":-11.75},{"s":"6.0","x":-0.28,"y":-11.95},{"s":"6.0","x":-0.29,"y":-12.05},{"s":"6.0","x":-0.3,"y":-12.25},{"s":"6.0","x":-0.31,"y":-12.25},{"s":"6.0","x":-0.32,"y":-12.45},{"s":"6.0","x":-0.33,"y":-12.45},{"s":"6.0","x":-0.34,"y":-12.65},{"s":"6.0","x":-0.35,"y":-12.65},{"s":"6.0","x":-0.36,"y":-12.8},{"s":"6.0","x":-0.37,"y":-12.75},{"s":"6.0","x":-0.38,"y":-12.9},{"s":"6.0","x":-0.39,"y":-12.85},{"s":"6.0","x":-0.4,"y":-13.0},{"s":"6.0","x":-0.4,"y":-12.8}
],
"labA":[{"t":"pH","x":-0.518,"y":2.8},{"t":"3.0","x":-0.516,"y":-1.17},{"t":"3.5","x":-0.516,"y":-15.04},{"t":"4.1","x":-0.516,"y":-20.05},{"t":"6.8","x":-0.516,"y":-25.66},{"t":"6.0","x":-0.0788,"y":-21.4}],
"rulesA":[{"x":-0.4767,"x2":-0.437,"y":-1.5},{"x":-0.4767,"x2":-0.428,"y":-15.04},{"x":-0.4767,"x2":-0.428,"y":-20.1},{"x":-0.4767,"x2":-0.428,"y":-25.9},{"x":-0.1123,"x2":-0.2671,"y":-21.7},{"x":-0.552,"x2":-0.441,"y":1.09}],
"headsA":[{"d":"right","x":-0.4342,"y":-1.5},{"d":"right","x":-0.4247,"y":-15.04},{"d":"right","x":-0.4247,"y":-20.1},{"d":"right","x":-0.4247,"y":-25.9},{"d":"left","x":-0.2699,"y":-21.7}],
"labB":[{"t":"pH","x":-0.542,"y":1.9},{"t":"4.2","x":-0.5297,"y":-7.3},{"t":"6.8","x":-0.5297,"y":-13.74},{"t":"6.0","x":-0.1176,"y":-12.6}],
"rulesB":[{"x":-0.4851,"x2":-0.4405,"y":-7.39},{"x":-0.4851,"x2":-0.4405,"y":-13.88},{"x":-0.1635,"x2":-0.3324,"y":-12.6},{"x":-0.573,"x2":-0.4635,"y":0.77}],
"headsB":[{"d":"right","x":-0.4378,"y":-7.39},{"d":"right","x":-0.4378,"y":-13.88},{"d":"left","x":-0.3365,"y":-12.6}]
},
"vconcat":[
{"width":526,"height":448,
"encoding":{
"x":{"field":"x","type":"quantitative","scale":{"domain":[-0.6,0.12],"nice":false,"zero":false},"axis":{"values":[-0.6,-0.4,-0.2,0],"title":"V vs Ag/AgCl","labelPadding":42,"titlePadding":14}},
"y":{"field":"y","type":"quantitative","scale":{"domain":[-30,5],"nice":false,"zero":false},"axis":{"values":[-30,-20,-10,0],"title":null,"labelPadding":32}}},
"layer":[
{"data":{"name":"curvesA"},"mark":{"type":"line","strokeWidth":1.3,"strokeJoin":"round"},
"encoding":{"color":{"field":"s","type":"nominal","scale":{"domain":["6.8","3.5","4.1","6.0","3.0"],"range":["#111111","#bf4a1e","#e0439c","#2b41b2","#d0222c"]},"legend":null},"order":{"value":null}}},
{"data":{"name":"rulesA"},"mark":{"type":"rule","color":"#333","strokeWidth":1.3},"encoding":{"x2":{"field":"x2"}}},
{"data":{"name":"headsA"},"mark":{"type":"point","filled":true,"opacity":1,"color":"#111","size":100},
"encoding":{"shape":{"field":"d","type":"nominal","scale":{"domain":["right","left"],"range":["M-1,-0.7L1,0L-1,0.7Z","M1,-0.7L-1,0L1,0.7Z"]},"legend":null}}},
{"data":{"name":"labA"},"mark":{"type":"text","fontSize":26,"font":"Liberation Sans","color":"#222","align":"center","baseline":"middle"},"encoding":{"text":{"field":"t"}}},
{"data":{"values":[{"t":"A","x":-0.558,"y":5.6}]},"mark":{"type":"text","fontSize":26,"fontWeight":"bold","font":"Liberation Sans","color":"#111","align":"center","baseline":"middle"},"encoding":{"text":{"field":"t"}}},
{"data":{"values":[{"t":"/ pA","x":-0.726,"y":-11.95}]},"mark":{"type":"text","fontSize":26,"font":"Liberation Sans","color":"#222","align":"center","baseline":"middle","angle":270},"encoding":{"text":{"field":"t"}}},
{"data":{"values":[{"t":"i","x":-0.726,"y":-14.6}]},"mark":{"type":"text","fontSize":26,"fontStyle":"italic","font":"Liberation Sans","color":"#222","align":"center","baseline":"middle","angle":270},"encoding":{"text":{"field":"t"}}}
]},
{"width":528,"height":441,
"encoding":{
"x":{"field":"x","type":"quantitative","scale":{"domain":[-0.6,0.1135],"nice":false,"zero":false},"axis":{"values":[-0.6,-0.4,-0.2,0],"title":"V vs Ag/AgCl","labelPadding":45,"titlePadding":11}},
"y":{"field":"y","type":"quantitative","scale":{"domain":[-15,5],"nice":false,"zero":false},"axis":{"values":[-15,-10,-5,0,5],"title":null,"labelPadding":33}}},
"layer":[
{"data":{"name":"curvesB"},"mark":{"type":"line","strokeWidth":1.3,"strokeJoin":"round"},
"encoding":{"color":{"field":"s","type":"nominal","scale":{"domain":["4.2","6.8","6.0"],"range":["#3450b2","#111111","#d0142c"]},"legend":null},"order":{"value":null}}},
{"data":{"name":"rulesB"},"mark":{"type":"rule","color":"#333","strokeWidth":1.3},"encoding":{"x2":{"field":"x2"}}},
{"data":{"name":"headsB"},"mark":{"type":"point","filled":true,"opacity":1,"color":"#111","size":100},
"encoding":{"shape":{"field":"d","type":"nominal","scale":{"domain":["right","left"],"range":["M-1,-0.7L1,0L-1,0.7Z","M1,-0.7L-1,0L1,0.7Z"]},"legend":null}}},
{"data":{"name":"labB"},"mark":{"type":"text","fontSize":26,"font":"Liberation Sans","color":"#222","align":"center","baseline":"middle"},"encoding":{"text":{"field":"t"}}},
{"data":{"values":[{"t":"B","x":-0.558,"y":5.35}]},"mark":{"type":"text","fontSize":26,"fontWeight":"bold","font":"Liberation Sans","color":"#111","align":"center","baseline":"middle"},"encoding":{"text":{"field":"t"}}},
{"data":{"values":[{"t":"/ pA","x":-0.724,"y":-4.63}]},"mark":{"type":"text","fontSize":26,"font":"Liberation Sans","color":"#222","align":"center","baseline":"middle","angle":270},"encoding":{"text":{"field":"t"}}}
]}
]
}
